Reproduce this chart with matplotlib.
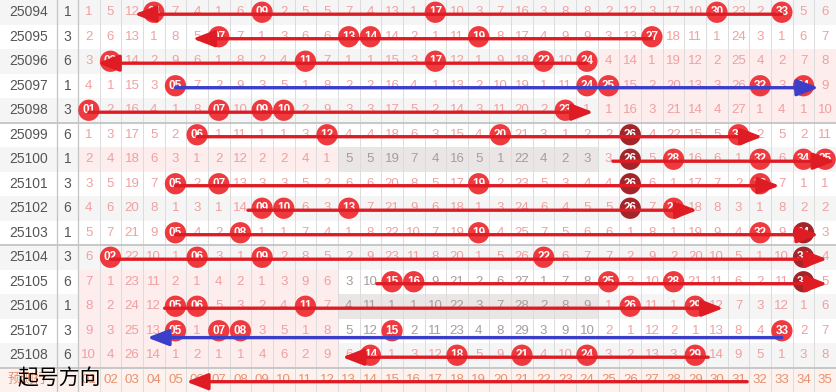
import matplotlib.pyplot as plt
from matplotlib.patches import Rectangle

# periods, group column and omission counts for numbers 01..35 (0 = drawn that period)
periods = ['25094', '25095', '25096', '25097', '25098', '25099', '25100', '25101',
           '25102', '25103', '25104', '25105', '25106', '25107', '25108']
group = [1, 3, 6, 1, 3, 6, 1, 3, 6, 1, 3, 6, 1, 3, 6]
misses = [
    [1, 5, 12, 0, 7, 4, 1, 6, 0, 2, 5, 5, 7, 4, 13, 1, 0, 10, 3, 7, 16, 3, 8, 8, 2, 12, 3, 17, 10, 0, 23, 2, 0, 5, 6],
    [2, 6, 13, 1, 8, 5, 0, 7, 1, 3, 6, 6, 0, 0, 14, 2, 1, 11, 0, 8, 17, 4, 9, 9, 3, 13, 0, 18, 11, 1, 24, 3, 1, 6, 7],
    [3, 0, 14, 2, 9, 6, 1, 8, 2, 4, 0, 7, 1, 1, 15, 3, 0, 12, 1, 9, 18, 0, 10, 0, 4, 14, 1, 19, 12, 2, 25, 4, 2, 7, 8],
    [4, 1, 15, 3, 0, 7, 2, 9, 3, 5, 1, 8, 2, 2, 16, 4, 1, 13, 2, 10, 19, 1, 11, 0, 0, 15, 2, 20, 13, 3, 26, 0, 3, 0, 9],
    [0, 2, 16, 4, 1, 8, 0, 10, 0, 0, 2, 9, 3, 3, 17, 5, 2, 14, 3, 11, 20, 2, 0, 1, 1, 16, 3, 21, 14, 4, 27, 1, 4, 1, 10],
    [1, 3, 17, 5, 2, 0, 1, 11, 1, 1, 3, 0, 4, 4, 18, 6, 3, 15, 4, 0, 21, 3, 1, 2, 2, 0, 4, 22, 15, 5, 0, 2, 5, 2, 11],
    [2, 4, 18, 6, 3, 1, 2, 12, 2, 2, 4, 1, 5, 5, 19, 7, 4, 16, 5, 1, 22, 4, 2, 3, 3, 0, 5, 0, 16, 6, 1, 0, 6, 0, 0],
    [3, 5, 19, 7, 0, 2, 0, 13, 3, 3, 5, 2, 6, 6, 20, 8, 5, 17, 0, 2, 23, 5, 3, 4, 4, 0, 6, 1, 17, 7, 2, 0, 7, 1, 1],
    [4, 6, 20, 8, 1, 3, 1, 14, 0, 0, 6, 3, 0, 7, 21, 9, 6, 18, 1, 3, 24, 6, 4, 5, 5, 0, 7, 0, 18, 8, 3, 1, 8, 2, 2],
    [5, 7, 21, 9, 0, 4, 2, 0, 1, 1, 7, 4, 1, 8, 22, 10, 7, 19, 0, 4, 25, 7, 5, 6, 6, 1, 8, 1, 19, 9, 4, 0, 9, 0, 3],
    [6, 0, 22, 10, 1, 0, 3, 1, 0, 2, 8, 5, 2, 9, 23, 11, 8, 20, 1, 5, 26, 0, 6, 7, 7, 2, 9, 2, 20, 10, 5, 1, 10, 0, 4],
    [7, 1, 23, 11, 2, 1, 4, 2, 1, 3, 9, 6, 3, 10, 0, 0, 9, 21, 2, 6, 27, 1, 7, 8, 0, 3, 10, 0, 21, 11, 6, 2, 11, 0, 5],
    [8, 2, 24, 12, 0, 0, 5, 3, 2, 4, 0, 7, 4, 11, 1, 1, 10, 22, 3, 7, 28, 2, 8, 9, 1, 0, 11, 1, 0, 12, 7, 3, 12, 1, 6],
    [9, 3, 25, 13, 0, 1, 0, 0, 3, 5, 1, 8, 5, 12, 0, 2, 11, 23, 4, 8, 29, 3, 9, 10, 2, 1, 12, 2, 1, 13, 8, 4, 0, 2, 7],
    [10, 4, 26, 14, 1, 2, 1, 1, 4, 6, 2, 9, 6, 0, 1, 3, 12, 0, 5, 9, 0, 4, 10, 0, 3, 2, 13, 3, 0, 14, 9, 5, 1, 3, 8],
]
dark_hits = [('25099', 26), ('25100', 26), ('25101', 26), ('25102', 26),
             ('25103', 34), ('25104', 34), ('25105', 34)]
col_labels = ['%02d' % n for n in range(1, 36)]

# direction arrows: (row, from column, to column, kind)
arrows = [
    ('25094', 33, 3.1, 'r'), ('25095', 27, 5.8, 'r'), ('25096', 24, 1.4, 'r'),
    ('25097', 5, 34.7, 'b'), ('25098', 1, 24.3, 'r'), ('25099', 6, 32.1, 'r'),
    ('25100', 25.2, 35.45, 'r'), ('25101', 5, 32.9, 'r'), ('25102', 8.35, 29.1, 'r'),
    ('25103', 5, 34.7, 'r'), ('25104', 2, 35.1, 'r'), ('25105', 14.3, 35.1, 'r'),
    ('25106', 4.5, 30.3, 'r'), ('25107', 33, 3.7, 'b'), ('25108', 29.6, 12.7, 'r'),
    ('预测行', 31.4, 5.5, 'r'),
]

# shaded cells: (first row, last row, first col, last col, kind)
pink_zones = [('25096', '25098', 25, 35), ('25100', '25100', 1, 12), ('25105', '25108', 1, 12)]
gray_zones = [('25100', '25100', 13, 24), ('25106', '25106', 13, 24)]
gray_text_rows = ['25100', '25105', '25106', '25107']

row_idx = {p: i for i, p in enumerate(periods)}
row_idx['预测行'] = len(periods)
nrows = len(periods) + 1

colw = 758 / 35
x0 = -78 / colw + 0.5
xsep = (57 - 78) / colw + 0.5

fig = plt.figure(figsize=(8.36, 3.92), dpi=100)
ax = fig.add_axes([0, 0, 1, 1])
ax.set_xlim(x0, 35.5)
ax.set_ylim(nrows - 0.5, -0.5)
ax.axis('off')

font = 'Liberation Sans'
cjk = ['Noto Sans CJK SC', 'DejaVu Sans']

# stripes
for i in range(len(periods)):
    if i % 2 == 0:
        ax.add_patch(Rectangle((x0, i - 0.5), 35.5 - x0, 1, color='#f5f5f5', lw=0, zorder=0))
ax.add_patch(Rectangle((x0, nrows - 1.5), 35.5 - x0, 1, color='#fdf2ee', lw=0, zorder=0))

for a, b, c1, c2 in pink_zones:
    ax.add_patch(Rectangle((c1 - 0.5, row_idx[a] - 0.5), c2 - c1 + 1, row_idx[b] - row_idx[a] + 1,
                           color='#fdeded', lw=0, zorder=0.5))
for a, b, c1, c2 in gray_zones:
    ax.add_patch(Rectangle((c1 - 0.5, row_idx[a] - 0.5), c2 - c1 + 1, row_idx[b] - row_idx[a] + 1,
                           color='#ebe6e6', lw=0, zorder=0.5))

# grid
for k in range(1, 35):
    ax.plot([k + 0.5, k + 0.5], [-0.5, nrows - 0.5], color='#dcdcdc', lw=0.7, zorder=1)
for xs in (xsep, 0.5):
    ax.plot([xs, xs], [-0.5, nrows - 0.5], color='#c4c4c4', lw=0.9, zorder=1)
for ys in (4.5, 9.5, 14.5):
    ax.plot([x0, 35.5], [ys, ys], color='#c4c4c4', lw=1.3, zorder=1)

xper = (x0 + xsep) / 2
xgrp = (xsep + 0.5) / 2

for i, p in enumerate(periods):
    ax.text(xper, i, p, ha='center', va='center', fontsize=10, color='#555555', family=font)
    ax.text(xgrp, i, str(group[i]), ha='center', va='center', fontsize=10, color='#555555', family=font)
    hx, hy, hc = [], [], []
    for k, m in enumerate(misses[i], start=1):
        if m == 0:
            hx.append(k)
            hy.append(i)
            hc.append('#a3252a' if (p, k) in dark_hits else '#ee3a3f')
        else:
            tc = '#a89c9c' if (p in gray_text_rows and 13 <= k <= 24) else '#f0a0a0'
            ax.text(k, i, str(m), ha='center', va='center', fontsize=9.5, color=tc,
                    family=font, zorder=2)
    ax.scatter(hx, hy, s=235, c=hc, linewidths=0, zorder=4)
    for x, y in zip(hx, hy):
        ax.text(x, y, '%02d' % x, ha='center', va='center', fontsize=8.5, color='white',
                fontweight='bold', family=font, zorder=5)

ax.text(x0 + 8 / colw, nrows - 1, '预测行', ha='left', va='center', fontsize=9.5,
        color='#e8906e', family=cjk, zorder=2)
for k, lab in enumerate(col_labels, start=1):
    ax.text(k, nrows - 1, lab, ha='center', va='center', fontsize=9.5, color='#e8906e',
            family=font, zorder=2)

line_col = {'r': '#df1b24', 'b': '#3a3ec8'}
for p, a, b, kind in arrows:
    y = row_idx[p] + (0.28 if p == '25107' else 0.08)
    ax.annotate('', xy=(b, y), xytext=(a, y),
                arrowprops=dict(arrowstyle='-|>,head_length=1.3,head_width=0.5',
                                mutation_scale=10, color=line_col[kind], lw=2.4,
                                shrinkA=0, shrinkB=0), zorder=6)

ax.text(x0 + 59 / colw, nrows - 1.05, '起号方向', ha='center', va='center', fontsize=15,
        color='black', family=cjk, zorder=8)

fig.savefig('out.png', dpi=100)
